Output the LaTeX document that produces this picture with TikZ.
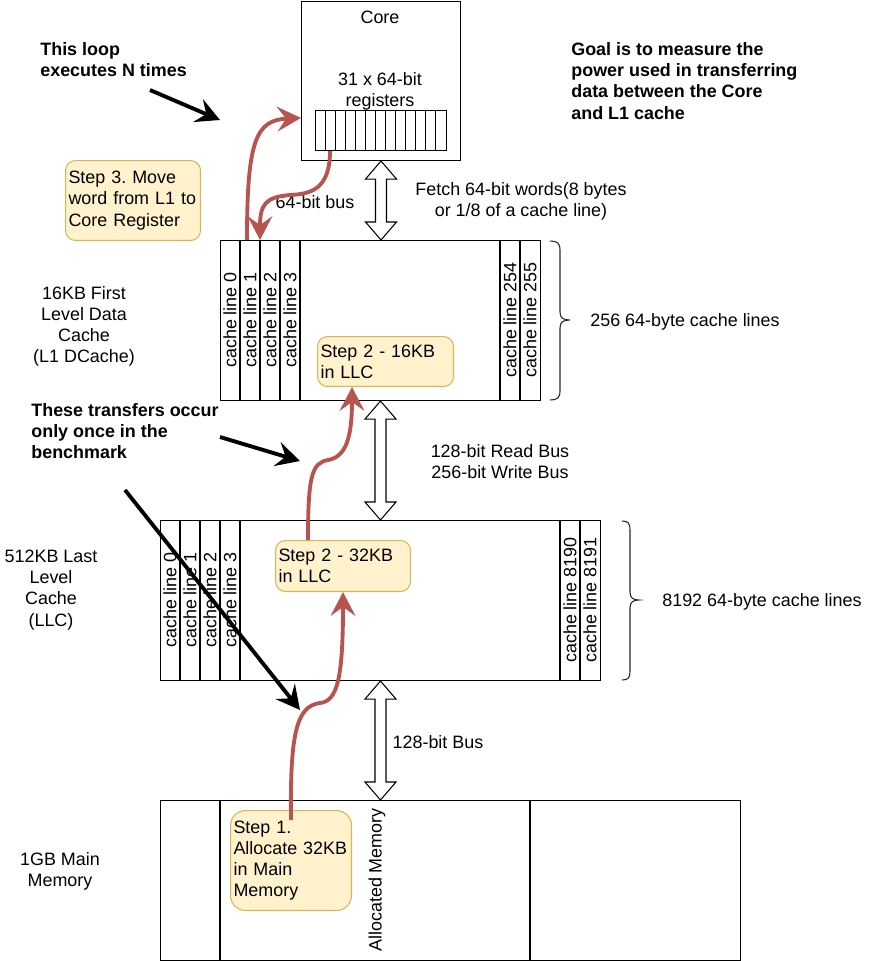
\documentclass[tikz,border=0pt]{standalone}
\usepackage{fontspec}
\setmainfont{Liberation Sans}
\usetikzlibrary{arrows.meta,calc}
\frenchspacing

\definecolor{stepfill}{HTML}{FFF2CC}
\definecolor{stepdraw}{HTML}{D6B656}
\definecolor{flowred}{HTML}{B85450}

\tikzset{
  thinline/.style={line width=0.6pt},
  box/.style={draw, thinline, fill=white, inner sep=0pt, anchor=north west},
  lbl/.style={inner sep=0pt, font=\fontsize{10.2}{12}\selectfont},
  note/.style={lbl, anchor=west, align=left, font=\fontsize{10.2}{12}\selectfont\bfseries},
  cell/.style={lbl, rotate=90},
  stepbox/.style={draw=stepdraw, fill=stepfill, thinline, rounded corners=0.2cm,
    align=left, inner xsep=0.06cm, inner ysep=0pt, anchor=north west,
    font=\fontsize{10.2}{12}\selectfont},
  flow/.style={draw=flowred, line width=2.2pt,
    -{Stealth[length=13.5pt, width=14pt, inset=5pt]}},
  pointer/.style={draw=black, line width=2.2pt,
    -{Stealth[length=13.5pt, width=14pt, inset=5pt]}},
  bus/.style={draw, thinline, fill=white},
  bracket/.style={draw=black!85, thinline},
}

\newcommand\busarrow[2]{%
  \draw[bus] (#1) -- ++(15.5,18) -- ++(-10,0) -- ($(#2)+(5.5,-18)$) -- ++(10,0)
    -- (#2) -- ++(-15.5,-18) -- ++(10,0) -- ($(#1)+(-5.5,18)$) -- ++(-10,0) -- cycle;}

\begin{document}
\begin{tikzpicture}[x=0.02cm, y=-0.02cm]
    \useasboundingbox (0,0) rectangle (871,961);

    \node[box, minimum width=3.18cm, minimum height=3.18cm] (core) at (301,1) {};
    \node[box, minimum width=2.62cm, minimum height=0.8cm] (regs) at (315,110) {};
    \foreach \i in {1,...,12}
        \draw[thinline] ($(regs.north west)+(\i*10.08,0)$) -- ($(regs.south west)+(\i*10.08,0)$);

    \node[box, minimum width=6.4cm, minimum height=3.2cm] (l1) at (220,240) {};
    \foreach \x in {240,260,280,300,500,520}
        \draw[thinline] (\x,240) -- (\x,400);

    \node[box, minimum width=8.8cm, minimum height=3.2cm] (llc) at (160,520) {};
    \foreach \x in {180,200,220,240,560,580}
        \draw[thinline] (\x,520) -- (\x,680);

    \node[box, minimum width=11.6cm, minimum height=3.2cm] (mem) at (160,800) {};
    \foreach \x in {220,530}
        \draw[thinline] (\x,800) -- (\x,960);

    \foreach \n in {0,...,3} {
        \node[cell] (l1c\n) at ({230+20*\n},320) {cache line \n};
        \node[cell] (llcc\n) at ({170+20*\n},600) {cache line \n};
    }
    \node[cell] (l1c254) at (510,320) {cache line 254};
    \node[cell] (l1c255) at (530,320) {cache line 255};
    \node[cell] (llcc8190) at (570,600) {cache line 8190};
    \node[cell] (llcc8191) at (590,600) {cache line 8191};
    \node[cell] (alloc) at (377,880) {Allocated Memory};

    \node[lbl] (corelbl) at (380,17) {Core};
    \node[lbl, align=center] (regslbl) at (380,91) {31 x 64-bit\\registers};
    \node[lbl, align=center] (l1lbl) at (84,326) {16KB First\\Level Data\\Cache\\(L1 DCache)};
    \node[lbl, align=center] (llclbl) at (51,590) {512KB Last\\Level\\Cache\\(LLC)};
    \node[lbl, align=center] (memlbl) at (60,871) {1GB Main\\Memory};
    \node[lbl, align=center] (fetchlbl) at (521,201) {Fetch 64-bit words(8 bytes\\or 1/8 of a cache line)};
    \node[lbl] (buslbl) at (315,202) {64-bit bus};
    \node[lbl, align=center] (rwlbl) at (500,462) {128-bit Read Bus\\256-bit Write Bus};
    \node[lbl] (membuslbl) at (438,742) {128-bit Bus};
    \node[lbl, anchor=west] (l1count) at (590,322) {256 64-byte cache lines};
    \node[lbl, anchor=west] (llccount) at (662,602) {8192 64-byte cache lines};

    \node[note] (loopnote) at (40,60) {This loop\\executes N times};
    \node[note] (goalnote) at (571,81) {Goal is to measure the\\power used in transferring\\data between the Core\\and L1 cache};
    \node[note] (oncenote) at (31,431) {These transfers occur\\only once in the\\benchmark};

    \draw[bracket] (550,241) .. controls (557,241) and (560,243) .. (560,250) -- (560,312)
        .. controls (560,318) and (563,320) .. (570,320) .. controls (563,320) and (560,322) .. (560,328)
        -- (560,391) .. controls (560,398) and (557,400) .. (550,400);
    \draw[bracket] (622,521) .. controls (628,521) and (630,523) .. (630,530) -- (630,592)
        .. controls (630,598) and (633,600) .. (639,600) .. controls (633,600) and (630,602) .. (630,608)
        -- (630,671) .. controls (630,678) and (628,680) .. (622,680);

    \node[stepbox, text width=2.58cm, minimum height=1.6cm] (step3) at (65,160)
        {Step 3. Move\\word from L1 to\\Core Register};
    \node[stepbox, text width=2.60cm, minimum height=1.0cm] (step2a) at (317,336)
        {Step 2 - 16KB\\in LLC};
    \node[stepbox, text width=2.58cm, minimum height=1.02cm] (step2b) at (275,540)
        {Step 2 - 32KB\\in LLC};
    \node[stepbox, text width=2.30cm, minimum height=2.0cm, rounded corners=0.3cm] (step1) at (230,810)
        {Step 1.\\Allocate 32KB\\in Main\\Memory};

    \coordinate (bus1b) at (core.south |- l1.north);
    \coordinate (bus2b) at (l1.south |- llc.north);
    \coordinate (bus3b) at (llc.south |- mem.north);
    \busarrow{core.south}{bus1b}
    \busarrow{l1.south}{bus2b}
    \busarrow{llc.south}{bus3b}

    \coordinate (memout) at ([yshift=-0.2cm]step1.north);
    \coordinate (llcout) at ([xshift=0.66cm]step2b.north west);
    \coordinate (l1in) at ([xshift=0.7cm]step2a.south west);
    \coordinate (l1out) at ([xshift=0.54cm]l1.north west);
    \coordinate (corein) at ([yshift=-2.34cm]core.north west);
    \coordinate (regsout) at ([xshift=0.3cm]regs.south west);
    \coordinate (l1cin) at ([xshift=0.8cm]l1.north west);

    \draw[flow] (memout) .. controls (290,735) and (296,706) .. (320,703)
        .. controls (337,701) and (343,680) .. (step2b.south);
    \draw[flow] (llcout) .. controls (308,475) and (312,463) .. (328,460)
        .. controls (345,457) and (352,440) .. (l1in);
    \draw[flow] (l1out) .. controls (247,140) and (256,120) .. (corein);
    \draw[flow] (regsout) .. controls (330,190) and (310,194) .. (290,195)
        .. controls (265,197) and (260,205) .. (l1cin);

    \coordinate (loopfrom) at (150,90);
    \coordinate (loopto) at (220,120);
    \coordinate (oncefrom) at (220,437);
    \coordinate (onceto) at (300,461);
    \coordinate (memfrom) at (125,490);
    \coordinate (memto) at (300,710);
    \draw[pointer] (loopfrom) -- (loopto);
    \draw[pointer] (oncefrom) -- (onceto);
    \draw[pointer] (memfrom) -- (memto);
\end{tikzpicture}
\end{document}
